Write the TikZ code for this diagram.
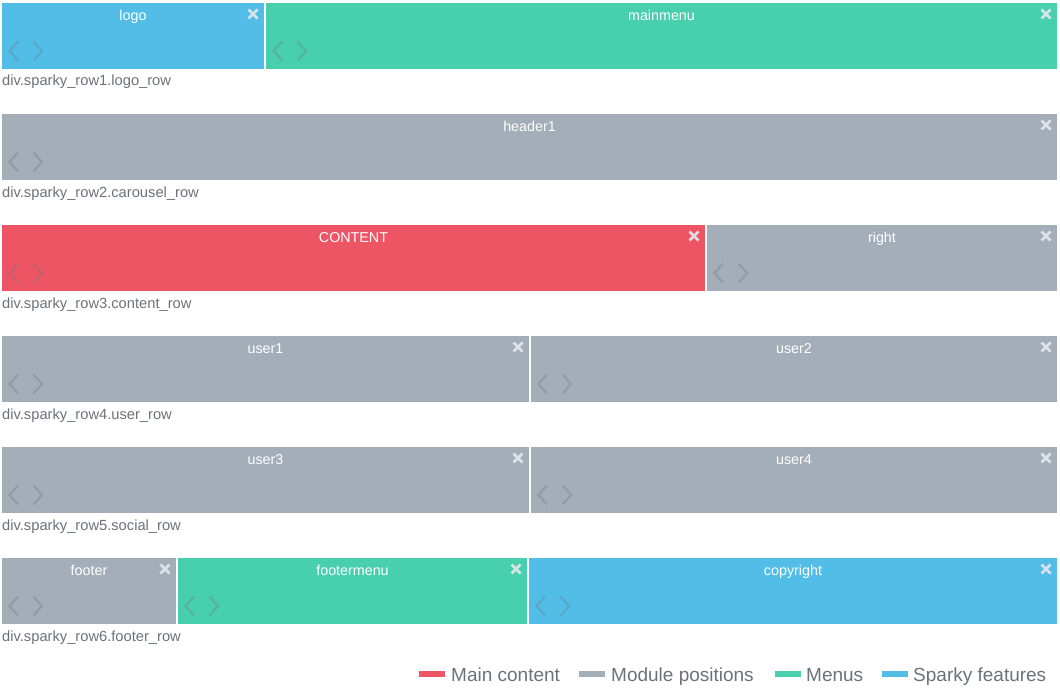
\documentclass[tikz,border=0pt]{standalone}
\usepackage{fontspec}
\setmainfont{Liberation Sans}
\definecolor{cblue}{HTML}{52BEE8}
\definecolor{cgreen}{HTML}{48CFAD}
\definecolor{cred}{HTML}{ED5565}
\definecolor{cgrey}{HTML}{A4AEB8}
\definecolor{ctext}{HTML}{6B737A}
\definecolor{cxmark}{HTML}{E2E6EA}
\definecolor{cchev}{HTML}{6E7882}
\tikzset{
  mbox/.style={draw=none, inner sep=0pt, outer sep=0pt, anchor=north west, minimum height=66pt},
  boxtitle/.style={text=white, anchor=base, inner sep=0pt, font=\fontsize{14.3}{17}\selectfont},
  xmark/.style={draw=cxmark, line width=2.8pt, opacity=0.95},
  chev/.style={draw=cchev, line width=2.2pt, opacity=0.32},
  rowlabel/.style={text=ctext, anchor=base west, inner sep=0pt, font=\fontsize{14.7}{17}\selectfont},
  legtext/.style={text=ctext, anchor=base west, inner sep=0pt, font=\fontsize{19}{22}\selectfont},
  swatch/.style={inner sep=0pt, minimum width=26pt, minimum height=6pt, anchor=west},
}
% #1 name, #2 color, #3 x1, #4 x2, #5 ytop, #6 title
\newcommand\modbox[6]{%
  \pgfmathsetmacro\boxw{#4-#3}%
  \node[mbox, fill=#2, minimum width=\boxw pt] (#1) at (#3,#5) {};
  \node[boxtitle] (#1-title) at ([yshift=-17.5pt]#1.north) {#6};
  \coordinate (#1-x) at ([xshift=-11pt,yshift=-11pt]#1.north east);
  \draw[xmark] ([shift={(-4.5pt,4.5pt)}]#1-x) -- ([shift={(4.5pt,-4.5pt)}]#1-x)
               ([shift={(-4.5pt,-4.5pt)}]#1-x) -- ([shift={(4.5pt,4.5pt)}]#1-x);
  \coordinate (#1-c) at ([yshift=-48pt]#1.north west);
  \draw[chev] ([shift={(16pt,9.5pt)}]#1-c) -- ([shift={(7.5pt,0pt)}]#1-c) -- ([shift={(16pt,-9.5pt)}]#1-c);
  \draw[chev] ([shift={(31.5pt,9.5pt)}]#1-c) -- ([shift={(40pt,0pt)}]#1-c) -- ([shift={(31.5pt,-9.5pt)}]#1-c);
}
\begin{document}
\begin{tikzpicture}[x=1pt,y=-1pt]
\useasboundingbox[fill=white] (0,0) rectangle (1060,698);
% row 1
\modbox{logo}{cblue}{2}{264}{3}{logo}
\modbox{mainmenu}{cgreen}{266}{1057}{3}{mainmenu}
\node[rowlabel] (r1) at (2,86) {div.sparky\_row1.logo\_row};
% row 2
\modbox{header1}{cgrey}{2}{1057}{114}{header1}
\node[rowlabel] (r2) at (2,197) {div.sparky\_row2.carousel\_row};
% row 3
\modbox{content}{cred}{2}{705}{225}{CONTENT}
\modbox{right}{cgrey}{707}{1057}{225}{right}
\node[rowlabel] (r3) at (2,308) {div.sparky\_row3.content\_row};
% row 4
\modbox{user1}{cgrey}{2}{529}{336}{user1}
\modbox{user2}{cgrey}{531}{1057}{336}{user2}
\node[rowlabel] (r4) at (2,419) {div.sparky\_row4.user\_row};
% row 5
\modbox{user3}{cgrey}{2}{529}{447}{user3}
\modbox{user4}{cgrey}{531}{1057}{447}{user4}
\node[rowlabel] (r5) at (2,530) {div.sparky\_row5.social\_row};
% row 6
\modbox{footer}{cgrey}{2}{176}{558}{footer}
\modbox{footermenu}{cgreen}{178}{527}{558}{footermenu}
\modbox{copyright}{cblue}{529}{1057}{558}{copyright}
\node[rowlabel] (r6) at (2,641) {div.sparky\_row6.footer\_row};
% legend
\node[swatch, fill=cred] (l1) at (419,674) {};
\node[legtext] (l1t) at (451,681) {Main content};
\node[swatch, fill=cgrey] (l2) at (579,674) {};
\node[legtext] (l2t) at (611,681) {Module positions};
\node[swatch, fill=cgreen] (l3) at (775,674) {};
\node[legtext] (l3t) at (806,681) {Menus};
\node[swatch, fill=cblue] (l4) at (882,674) {};
\node[legtext] (l4t) at (913,681) {Sparky features};
\end{tikzpicture}
\end{document}
